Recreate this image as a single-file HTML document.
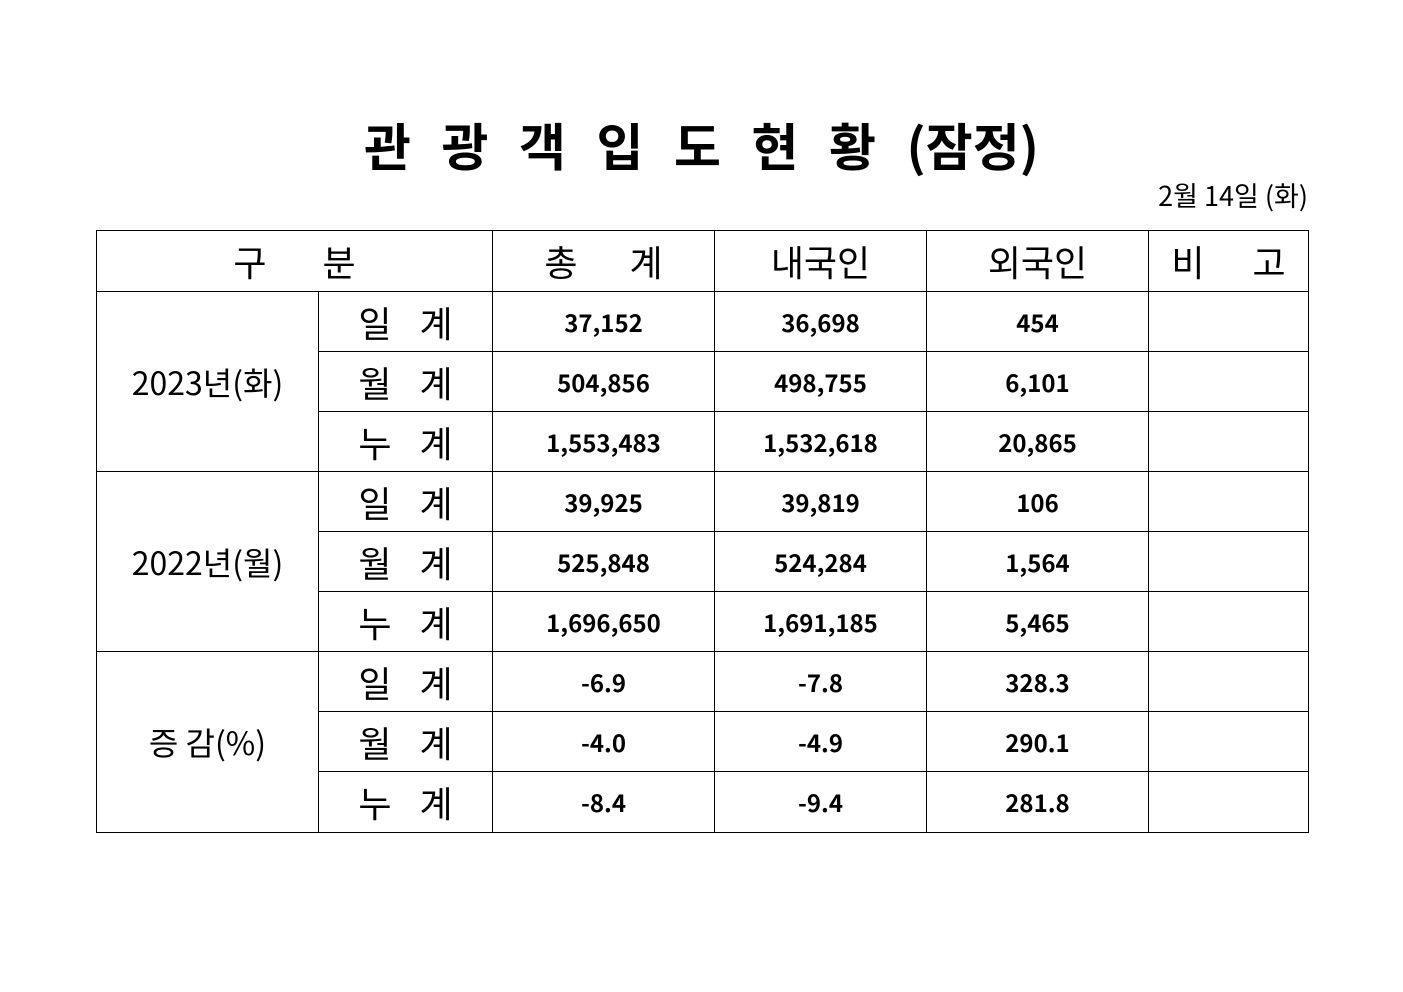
<!DOCTYPE html>
<html><head><meta charset="utf-8"><style>
html,body{margin:0;padding:0;background:#fff;width:1403px;height:992px;overflow:hidden;font-family:"Noto Sans CJK KR",sans-serif;color:#000}
.title{position:absolute;left:0;width:1403px;top:112px;text-align:center;font-size:51px;font-weight:bold;letter-spacing:0;word-spacing:19px;line-height:64px;font-family:"Noto Sans CJK KR",sans-serif}
.date{position:absolute;right:95px;top:178px;font-size:27px;line-height:34px;font-family:"Noto Sans CJK KR",sans-serif;white-space:nowrap}
table{position:absolute;left:96px;top:230px;border-collapse:collapse;table-layout:fixed}
td{border:1px solid #000;padding:0;text-align:center;height:59px;line-height:30px;font-size:24px;font-weight:bold;white-space:nowrap;overflow:hidden;font-family:"Noto Sans CJK KR",sans-serif}
tr.h td{height:60px;font-size:36px;line-height:40px;font-weight:normal}
tr.last td{height:60px}
td.g{font-size:32px;font-weight:normal}
td.l{font-size:36px;line-height:40px;font-weight:normal;letter-spacing:10px;padding-left:10px}
</style></head><body>
<div class="title">관 광 객 입 도 현 황 (잠정)</div>
<div class="date">2월 14일 (화)</div>
<table>
<colgroup><col style="width:222px"><col style="width:174px"><col style="width:222px"><col style="width:212px"><col style="width:222px"><col style="width:160px"></colgroup>
<tr class="h"><td colspan="2" style="letter-spacing:24px;padding-left:24px">구 분</td><td style="letter-spacing:22px;padding-left:22px">총 계</td><td>내국인</td><td>외국인</td><td style="letter-spacing:20px;padding-left:20px">비 고</td></tr>
<tr><td rowspan="3" class="g">2023년(화)</td><td class="l">일 계</td><td>37,152</td><td>36,698</td><td>454</td><td></td></tr>
<tr><td class="l">월 계</td><td>504,856</td><td>498,755</td><td>6,101</td><td></td></tr>
<tr><td class="l">누 계</td><td>1,553,483</td><td>1,532,618</td><td>20,865</td><td></td></tr>
<tr><td rowspan="3" class="g">2022년(월)</td><td class="l">일 계</td><td>39,925</td><td>39,819</td><td>106</td><td></td></tr>
<tr><td class="l">월 계</td><td>525,848</td><td>524,284</td><td>1,564</td><td></td></tr>
<tr><td class="l">누 계</td><td>1,696,650</td><td>1,691,185</td><td>5,465</td><td></td></tr>
<tr><td rowspan="3" class="g">증 감(%)</td><td class="l">일 계</td><td>-6.9</td><td>-7.8</td><td>328.3</td><td></td></tr>
<tr><td class="l">월 계</td><td>-4.0</td><td>-4.9</td><td>290.1</td><td></td></tr>
<tr class="last"><td class="l">누 계</td><td>-8.4</td><td>-9.4</td><td>281.8</td><td></td></tr>
</table>
</body></html>
